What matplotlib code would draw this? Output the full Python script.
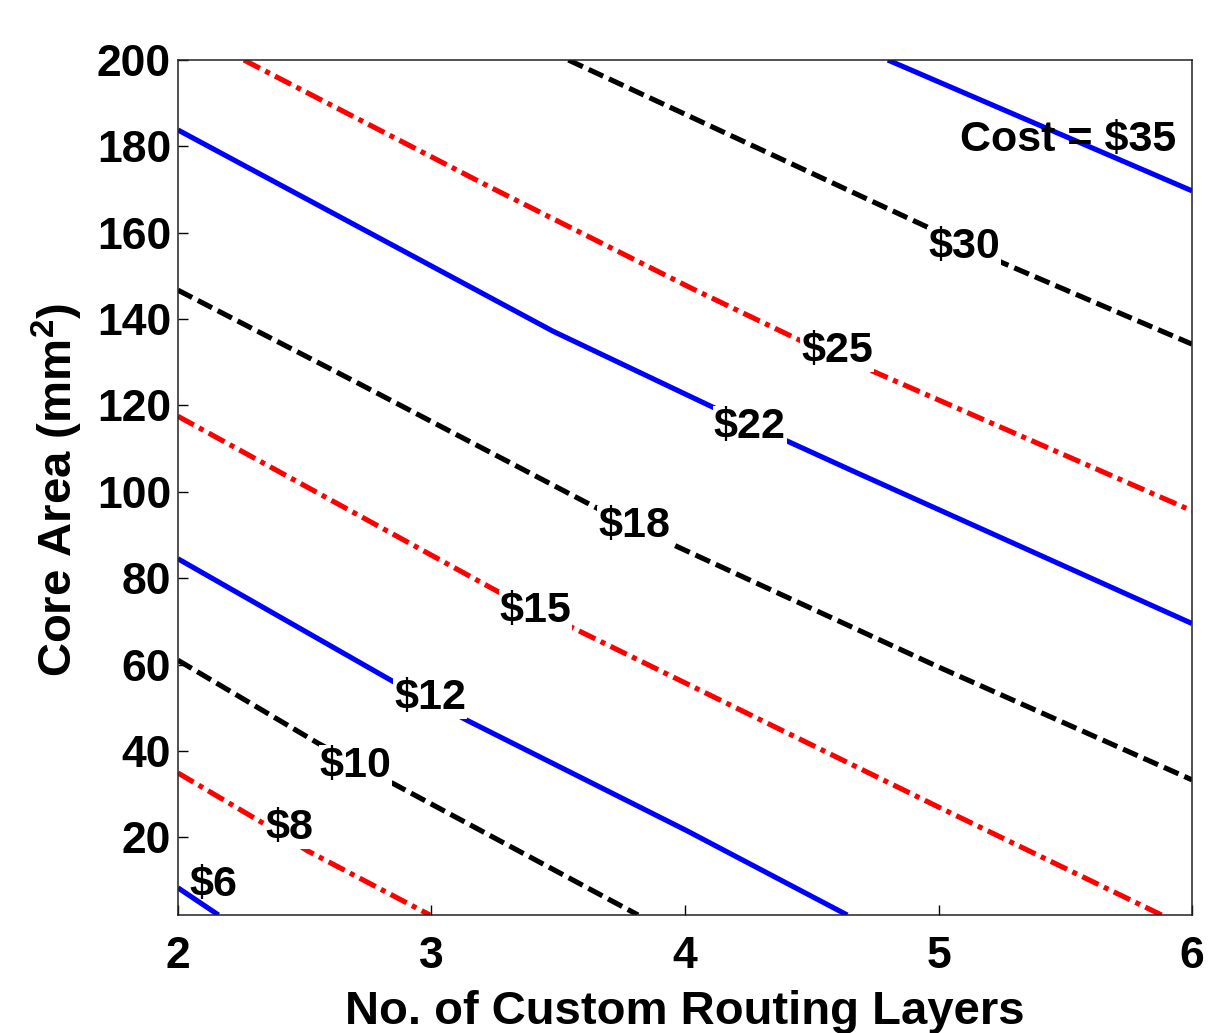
import matplotlib
matplotlib.use("Agg")
import matplotlib.pyplot as plt

plt.rcParams['font.family'] = ['Liberation Sans', 'DejaVu Sans']
plt.rcParams['font.weight'] = 'bold'
plt.rcParams['mathtext.fontset'] = 'custom'
plt.rcParams['mathtext.rm'] = 'Liberation Sans:bold'
plt.rcParams['mathtext.bf'] = 'Liberation Sans:bold'
plt.rcParams['lines.scale_dashes'] = False

# contour lines: (layers, core area) per cost level
cost_6_x = [2.0, 2.16]
cost_6_y = [8.3, 2.0]
cost_8_x = [2.0, 2.335, 2.51, 2.994]
cost_8_y = [34.9, 23.3, 16.9, 2.0]
cost_10_x = [2.0, 2.552, 2.844, 3.815]
cost_10_y = [61.0, 41.8, 32.6, 2.0]
cost_12_x = [2.0, 2.848, 3.14, 4.008, 4.64]
cost_12_y = [84.5, 56.1, 47.1, 21.5, 2.0]
cost_15_x = [2.0, 3.262, 3.554, 5.0, 5.88]
cost_15_y = [117.5, 76.9, 68.6, 27.0, 2.0]
cost_18_x = [2.0, 2.706, 3.657, 3.97, 4.994, 6.0]
cost_18_y = [146.7, 125.3, 96.1, 87.3, 59.6, 33.3]
cost_22_x = [2.0, 3.479, 4.110, 4.663, 6.0]
cost_22_y = [183.8, 137.2, 119.6, 104.8, 69.5]
cost_25_x = [2.26, 3.23, 4.02, 4.46, 4.75, 6.0]
cost_25_y = [200.0, 170.6, 147.3, 134.9, 127.7, 95.6]
cost_30_x = [3.54, 3.98, 4.96, 5.25, 6.0]
cost_30_y = [200.0, 188.0, 161.2, 153.1, 134.2]
cost_35_x = [4.80, 6.0]
cost_35_y = [200.0, 169.7]

labels = ['$6', '$8', '$10', '$12', '$15', '$18', '$22', '$25', '$30', 'Cost = $35']
label_x = [2.138, 2.44, 2.70, 2.994, 3.41, 3.80, 4.256, 4.60, 5.10, 5.511]
label_y = [9.0, 22.2, 36.5, 52.2, 72.5, 92.0, 115.0, 132.6, 156.6, 181.5]

x_ticks = [2, 3, 4, 5, 6]
y_ticks = [20, 40, 60, 80, 100, 120, 140, 160, 180, 200]

lines = [
    (cost_6_x, cost_6_y), (cost_8_x, cost_8_y), (cost_10_x, cost_10_y),
    (cost_12_x, cost_12_y), (cost_15_x, cost_15_y), (cost_18_x, cost_18_y),
    (cost_22_x, cost_22_y), (cost_25_x, cost_25_y), (cost_30_x, cost_30_y),
    (cost_35_x, cost_35_y),
]
# blue solid, red dash-dot, black dashed repeating
styles = ['blue', 'red', 'black', 'blue', 'red', 'black', 'blue', 'red', 'black', 'blue']

fig = plt.figure(figsize=(12.09, 10.33), dpi=100)
ax = fig.add_axes([0.1472, 0.1142, 0.8388, 0.8277])

for (xs, ys), c in zip(lines, styles):
    if c == 'blue':
        ax.plot(xs, ys, color=(0, 0, 1), lw=3.7, solid_capstyle='butt', zorder=2)
    elif c == 'red':
        ax.plot(xs, ys, color=(1, 0, 0), lw=3.7, dashes=(13, 4.3, 3.6, 4.3), zorder=2)
    else:
        ax.plot(xs, ys, color='black', lw=3.7, dashes=(11.5, 4.6), zorder=2)

for i, (t, lx, ly) in enumerate(zip(labels, label_x, label_y)):
    if i == 0 or i == len(labels) - 1:
        ax.text(lx, ly, t, fontsize=31, fontweight='bold', ha='center', va='center', zorder=5)
    else:
        ax.text(lx, ly, t, fontsize=31, fontweight='bold', ha='center', va='center', zorder=5,
                bbox=dict(facecolor='white', edgecolor='none', pad=0.5))

ax.set_xlim(2, 6)
ax.set_ylim(2, 200)
ax.set_xticks(x_ticks)
ax.set_yticks(y_ticks)
ax.tick_params(direction='in', length=7, width=1, labelsize=32)
ax.tick_params(axis='x', pad=15)
ax.tick_params(axis='y', pad=5)
for lab in ax.get_xticklabels() + ax.get_yticklabels():
    lab.set_fontweight('bold')
for s in ax.spines.values():
    s.set_linewidth(1.1)
    s.set_color('#222222')

ax.set_xlabel('No. of Custom Routing Layers', fontsize=34, fontweight='bold')
ax.xaxis.label.set_va('baseline')
ax.xaxis.set_label_coords(0.5, -0.128)
ax.set_ylabel(r'Core Area (mm$^{\mathbf{2}}$)', fontsize=34, fontweight='bold')
ax.yaxis.set_label_coords(-0.092, 0.497)

fig.savefig('out.png', dpi=100)
